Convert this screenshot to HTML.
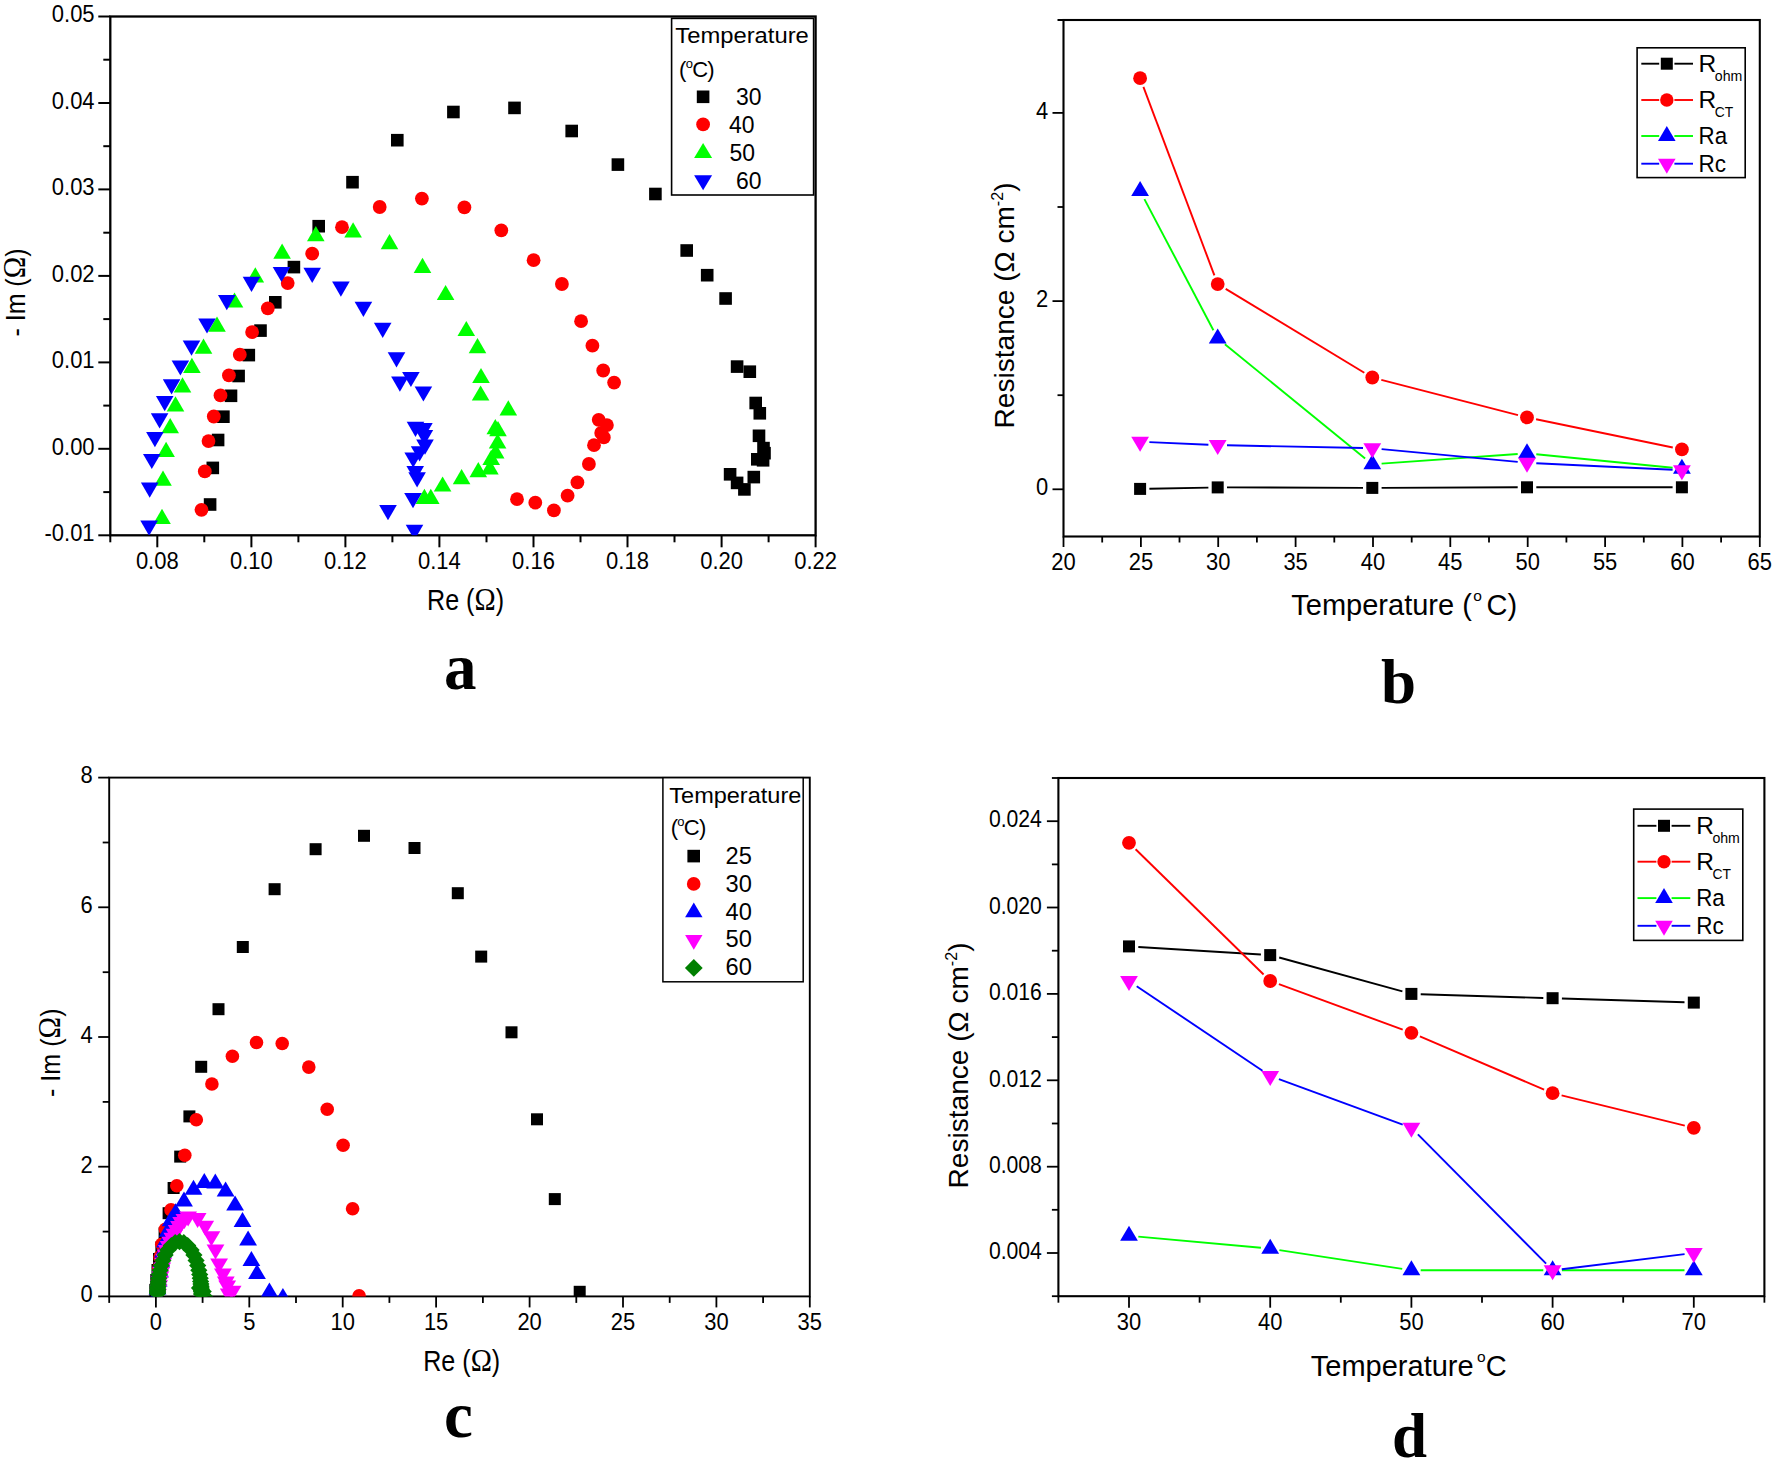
<!DOCTYPE html>
<html><head><meta charset="utf-8"><title>Impedance and resistance vs temperature</title>
<style>html,body{margin:0;padding:0;background:#fff}svg{display:block;font-family:"Liberation Sans",Arial,sans-serif;fill:#000}</style></head><body>
<svg width="1773" height="1466" viewBox="0 0 1773 1466">
<rect width="1773" height="1466" fill="#fff"/>
<g id="panel-a">
<clipPath id="ca"><rect x="110.3" y="16.5" width="705.3000000000001" height="518.8"/></clipPath>
<line x1="98.3" y1="16.5" x2="110.3" y2="16.5" stroke="#000" stroke-width="2"/>
<text x="94.6" y="22.4" font-size="23" text-anchor="end" textLength="42.8" lengthAdjust="spacingAndGlyphs">0.05</text>
<line x1="103.3" y1="59.7" x2="110.3" y2="59.7" stroke="#000" stroke-width="2"/>
<line x1="98.3" y1="103" x2="110.3" y2="103" stroke="#000" stroke-width="2"/>
<text x="94.6" y="108.9" font-size="23" text-anchor="end" textLength="42.8" lengthAdjust="spacingAndGlyphs">0.04</text>
<line x1="103.3" y1="146.2" x2="110.3" y2="146.2" stroke="#000" stroke-width="2"/>
<line x1="98.3" y1="189.4" x2="110.3" y2="189.4" stroke="#000" stroke-width="2"/>
<text x="94.6" y="195.3" font-size="23" text-anchor="end" textLength="42.8" lengthAdjust="spacingAndGlyphs">0.03</text>
<line x1="103.3" y1="232.7" x2="110.3" y2="232.7" stroke="#000" stroke-width="2"/>
<line x1="98.3" y1="275.9" x2="110.3" y2="275.9" stroke="#000" stroke-width="2"/>
<text x="94.6" y="281.8" font-size="23" text-anchor="end" textLength="42.8" lengthAdjust="spacingAndGlyphs">0.02</text>
<line x1="103.3" y1="319.1" x2="110.3" y2="319.1" stroke="#000" stroke-width="2"/>
<line x1="98.3" y1="362.4" x2="110.3" y2="362.4" stroke="#000" stroke-width="2"/>
<text x="94.6" y="368.3" font-size="23" text-anchor="end" textLength="42.8" lengthAdjust="spacingAndGlyphs">0.01</text>
<line x1="103.3" y1="405.6" x2="110.3" y2="405.6" stroke="#000" stroke-width="2"/>
<line x1="98.3" y1="448.8" x2="110.3" y2="448.8" stroke="#000" stroke-width="2"/>
<text x="94.6" y="454.7" font-size="23" text-anchor="end" textLength="42.8" lengthAdjust="spacingAndGlyphs">0.00</text>
<line x1="103.3" y1="492.1" x2="110.3" y2="492.1" stroke="#000" stroke-width="2"/>
<line x1="98.3" y1="535.3" x2="110.3" y2="535.3" stroke="#000" stroke-width="2"/>
<text x="94.6" y="541.2" font-size="23" text-anchor="end" textLength="50.1" lengthAdjust="spacingAndGlyphs">-0.01</text>
<line x1="110.3" y1="535.3" x2="110.3" y2="542.3" stroke="#000" stroke-width="2"/>
<line x1="157.3" y1="535.3" x2="157.3" y2="547.3" stroke="#000" stroke-width="2"/>
<text x="157.3" y="569.1" font-size="23" text-anchor="middle" textLength="42.8" lengthAdjust="spacingAndGlyphs">0.08</text>
<line x1="204.3" y1="535.3" x2="204.3" y2="542.3" stroke="#000" stroke-width="2"/>
<line x1="251.4" y1="535.3" x2="251.4" y2="547.3" stroke="#000" stroke-width="2"/>
<text x="251.4" y="569.1" font-size="23" text-anchor="middle" textLength="42.8" lengthAdjust="spacingAndGlyphs">0.10</text>
<line x1="298.4" y1="535.3" x2="298.4" y2="542.3" stroke="#000" stroke-width="2"/>
<line x1="345.4" y1="535.3" x2="345.4" y2="547.3" stroke="#000" stroke-width="2"/>
<text x="345.4" y="569.1" font-size="23" text-anchor="middle" textLength="42.8" lengthAdjust="spacingAndGlyphs">0.12</text>
<line x1="392.4" y1="535.3" x2="392.4" y2="542.3" stroke="#000" stroke-width="2"/>
<line x1="439.4" y1="535.3" x2="439.4" y2="547.3" stroke="#000" stroke-width="2"/>
<text x="439.4" y="569.1" font-size="23" text-anchor="middle" textLength="42.8" lengthAdjust="spacingAndGlyphs">0.14</text>
<line x1="486.5" y1="535.3" x2="486.5" y2="542.3" stroke="#000" stroke-width="2"/>
<line x1="533.5" y1="535.3" x2="533.5" y2="547.3" stroke="#000" stroke-width="2"/>
<text x="533.5" y="569.1" font-size="23" text-anchor="middle" textLength="42.8" lengthAdjust="spacingAndGlyphs">0.16</text>
<line x1="580.5" y1="535.3" x2="580.5" y2="542.3" stroke="#000" stroke-width="2"/>
<line x1="627.5" y1="535.3" x2="627.5" y2="547.3" stroke="#000" stroke-width="2"/>
<text x="627.5" y="569.1" font-size="23" text-anchor="middle" textLength="42.8" lengthAdjust="spacingAndGlyphs">0.18</text>
<line x1="674.5" y1="535.3" x2="674.5" y2="542.3" stroke="#000" stroke-width="2"/>
<line x1="721.6" y1="535.3" x2="721.6" y2="547.3" stroke="#000" stroke-width="2"/>
<text x="721.6" y="569.1" font-size="23" text-anchor="middle" textLength="42.8" lengthAdjust="spacingAndGlyphs">0.20</text>
<line x1="768.6" y1="535.3" x2="768.6" y2="542.3" stroke="#000" stroke-width="2"/>
<line x1="815.6" y1="535.3" x2="815.6" y2="547.3" stroke="#000" stroke-width="2"/>
<text x="815.6" y="569.1" font-size="23" text-anchor="middle" textLength="42.8" lengthAdjust="spacingAndGlyphs">0.22</text>
<rect x="110.3" y="16.5" width="705.3" height="518.8" fill="none" stroke="#000" stroke-width="2.3"/>
<g clip-path="url(#ca)">
<rect x="203.8" y="498.2" width="12.6" height="12.6" fill="#000"/>
<rect x="206.5" y="461.6" width="12.6" height="12.6" fill="#000"/>
<rect x="211.8" y="433.7" width="12.6" height="12.6" fill="#000"/>
<rect x="217.1" y="410.4" width="12.6" height="12.6" fill="#000"/>
<rect x="224.7" y="389.5" width="12.6" height="12.6" fill="#000"/>
<rect x="232.3" y="369.7" width="12.6" height="12.6" fill="#000"/>
<rect x="242.5" y="348.8" width="12.6" height="12.6" fill="#000"/>
<rect x="254.2" y="324.3" width="12.6" height="12.6" fill="#000"/>
<rect x="269" y="296" width="12.6" height="12.6" fill="#000"/>
<rect x="287.6" y="260.8" width="12.6" height="12.6" fill="#000"/>
<rect x="312.4" y="219.9" width="12.6" height="12.6" fill="#000"/>
<rect x="346.2" y="175.9" width="12.6" height="12.6" fill="#000"/>
<rect x="391" y="133.9" width="12.6" height="12.6" fill="#000"/>
<rect x="447.1" y="105.7" width="12.6" height="12.6" fill="#000"/>
<rect x="508.2" y="101.6" width="12.6" height="12.6" fill="#000"/>
<rect x="565.4" y="124.7" width="12.6" height="12.6" fill="#000"/>
<rect x="611.6" y="158.3" width="12.6" height="12.6" fill="#000"/>
<rect x="649.1" y="187.7" width="12.6" height="12.6" fill="#000"/>
<rect x="680.4" y="244.2" width="12.6" height="12.6" fill="#000"/>
<rect x="700.9" y="268.9" width="12.6" height="12.6" fill="#000"/>
<rect x="719.3" y="292.2" width="12.6" height="12.6" fill="#000"/>
<rect x="730.8" y="360.3" width="12.6" height="12.6" fill="#000"/>
<rect x="743.5" y="365.4" width="12.6" height="12.6" fill="#000"/>
<rect x="749.4" y="396.7" width="12.6" height="12.6" fill="#000"/>
<rect x="753.5" y="407" width="12.6" height="12.6" fill="#000"/>
<rect x="752.7" y="429.5" width="12.6" height="12.6" fill="#000"/>
<rect x="757.2" y="441.8" width="12.6" height="12.6" fill="#000"/>
<rect x="758.2" y="446.9" width="12.6" height="12.6" fill="#000"/>
<rect x="751" y="453" width="12.6" height="12.6" fill="#000"/>
<rect x="756.8" y="454" width="12.6" height="12.6" fill="#000"/>
<rect x="747.5" y="470.8" width="12.6" height="12.6" fill="#000"/>
<rect x="723.8" y="468" width="12.6" height="12.6" fill="#000"/>
<rect x="730.8" y="476.6" width="12.6" height="12.6" fill="#000"/>
<rect x="738.1" y="483.1" width="12.6" height="12.6" fill="#000"/>
<circle cx="201.5" cy="509.8" r="6.9" fill="#f00"/>
<circle cx="204.8" cy="471.4" r="6.9" fill="#f00"/>
<circle cx="208.5" cy="441.1" r="6.9" fill="#f00"/>
<circle cx="213.8" cy="416.5" r="6.9" fill="#f00"/>
<circle cx="220.5" cy="395.4" r="6.9" fill="#f00"/>
<circle cx="228.9" cy="375.4" r="6.9" fill="#f00"/>
<circle cx="239.8" cy="354.7" r="6.9" fill="#f00"/>
<circle cx="252.1" cy="332.1" r="6.9" fill="#f00"/>
<circle cx="267.8" cy="308.3" r="6.9" fill="#f00"/>
<circle cx="287.7" cy="283.1" r="6.9" fill="#f00"/>
<circle cx="312.2" cy="253.6" r="6.9" fill="#f00"/>
<circle cx="342" cy="227.2" r="6.9" fill="#f00"/>
<circle cx="379.7" cy="207" r="6.9" fill="#f00"/>
<circle cx="421.9" cy="198.6" r="6.9" fill="#f00"/>
<circle cx="464.4" cy="207.4" r="6.9" fill="#f00"/>
<circle cx="501.3" cy="230.3" r="6.9" fill="#f00"/>
<circle cx="533.6" cy="260.2" r="6.9" fill="#f00"/>
<circle cx="561.9" cy="284" r="6.9" fill="#f00"/>
<circle cx="581.1" cy="321.2" r="6.9" fill="#f00"/>
<circle cx="592.4" cy="345.7" r="6.9" fill="#f00"/>
<circle cx="603.2" cy="370.5" r="6.9" fill="#f00"/>
<circle cx="614.1" cy="382.6" r="6.9" fill="#f00"/>
<circle cx="598.7" cy="419.8" r="6.9" fill="#f00"/>
<circle cx="606.9" cy="425.1" r="6.9" fill="#f00"/>
<circle cx="601.2" cy="432.9" r="6.9" fill="#f00"/>
<circle cx="603.8" cy="437.4" r="6.9" fill="#f00"/>
<circle cx="594" cy="445.2" r="6.9" fill="#f00"/>
<circle cx="588.9" cy="464" r="6.9" fill="#f00"/>
<circle cx="577.4" cy="482.4" r="6.9" fill="#f00"/>
<circle cx="567.6" cy="495.7" r="6.9" fill="#f00"/>
<circle cx="553.9" cy="510.4" r="6.9" fill="#f00"/>
<circle cx="535.3" cy="502.7" r="6.9" fill="#f00"/>
<circle cx="517" cy="499.2" r="6.9" fill="#f00"/>
<path d="M162 508.8L170.8 524H153.2Z" fill="#0f0"/>
<path d="M163 470.5L171.8 485.7H154.2Z" fill="#0f0"/>
<path d="M166.1 441.7L174.9 456.9H157.3Z" fill="#0f0"/>
<path d="M170.2 418.1L179 433.3H161.4Z" fill="#0f0"/>
<path d="M175.5 396.2L184.3 411.4H166.7Z" fill="#0f0"/>
<path d="M182.5 377.2L191.3 392.4H173.7Z" fill="#0f0"/>
<path d="M191.9 357.7L200.7 372.9H183.1Z" fill="#0f0"/>
<path d="M203.5 338.6L212.3 353.8H194.7Z" fill="#0f0"/>
<path d="M217 316.5L225.8 331.7H208.2Z" fill="#0f0"/>
<path d="M234.5 292.4L243.3 307.6H225.7Z" fill="#0f0"/>
<path d="M255.3 267.3L264.1 282.5H246.5Z" fill="#0f0"/>
<path d="M282.1 243.6L290.9 258.8H273.3Z" fill="#0f0"/>
<path d="M315.8 226L324.6 241.2H307Z" fill="#0f0"/>
<path d="M353.1 222.3L361.9 237.5H344.3Z" fill="#0f0"/>
<path d="M389.5 234.1L398.3 249.3H380.7Z" fill="#0f0"/>
<path d="M422.5 257.7L431.3 272.9H413.7Z" fill="#0f0"/>
<path d="M445.6 284.9L454.4 300.1H436.8Z" fill="#0f0"/>
<path d="M466.3 320.9L475.1 336.1H457.5Z" fill="#0f0"/>
<path d="M477.5 338L486.3 353.2H468.7Z" fill="#0f0"/>
<path d="M481 367.9L489.8 383.1H472.2Z" fill="#0f0"/>
<path d="M480.6 385.4L489.4 400.6H471.8Z" fill="#0f0"/>
<path d="M508.3 400.2L517.1 415.4H499.5Z" fill="#0f0"/>
<path d="M495.3 419.1L504.1 434.3H486.5Z" fill="#0f0"/>
<path d="M498 421.1L506.8 436.3H489.2Z" fill="#0f0"/>
<path d="M497.6 433.4L506.4 448.6H488.8Z" fill="#0f0"/>
<path d="M495.7 443.2L504.5 458.4H486.9Z" fill="#0f0"/>
<path d="M491.2 449.8L500 465H482.4Z" fill="#0f0"/>
<path d="M489.9 459.3L498.7 474.5H481.1Z" fill="#0f0"/>
<path d="M478.3 462L487.1 477.2H469.5Z" fill="#0f0"/>
<path d="M461.6 469.1L470.4 484.3H452.8Z" fill="#0f0"/>
<path d="M442.6 476.4L451.4 491.6H433.8Z" fill="#0f0"/>
<path d="M430.8 488.7L439.6 503.9H422Z" fill="#0f0"/>
<path d="M424.4 488.7L433.2 503.9H415.6Z" fill="#0f0"/>
<path d="M140.3 520.5H157.9L149.1 535.7Z" fill="#00f"/>
<path d="M140.9 482.6H158.5L149.7 497.8Z" fill="#00f"/>
<path d="M143 453.9H160.6L151.8 469.1Z" fill="#00f"/>
<path d="M146.1 432H163.7L154.9 447.2Z" fill="#00f"/>
<path d="M150.8 413.2H168.4L159.6 428.4Z" fill="#00f"/>
<path d="M155.9 396H173.5L164.7 411.2Z" fill="#00f"/>
<path d="M162.8 379.2H180.4L171.6 394.4Z" fill="#00f"/>
<path d="M171.6 360.4H189.2L180.4 375.6Z" fill="#00f"/>
<path d="M182.7 340.6H200.3L191.5 355.8Z" fill="#00f"/>
<path d="M198.2 318.4H215.8L207 333.6Z" fill="#00f"/>
<path d="M218 295H235.6L226.8 310.2Z" fill="#00f"/>
<path d="M242.7 276.7H260.3L251.5 291.9Z" fill="#00f"/>
<path d="M272.7 266.9H290.3L281.5 282.1Z" fill="#00f"/>
<path d="M303.4 267.7H321L312.2 282.9Z" fill="#00f"/>
<path d="M332.1 281.6H349.7L340.9 296.8Z" fill="#00f"/>
<path d="M354.6 301.7H372.2L363.4 316.9Z" fill="#00f"/>
<path d="M373.9 322.8H391.5L382.7 338Z" fill="#00f"/>
<path d="M387.7 352.2H405.3L396.5 367.4Z" fill="#00f"/>
<path d="M402.1 371.9H419.7L410.9 387.1Z" fill="#00f"/>
<path d="M391.1 376.6H408.7L399.9 391.8Z" fill="#00f"/>
<path d="M414.6 386.4H432.2L423.4 401.6Z" fill="#00f"/>
<path d="M406.7 421.8H424.3L415.5 437Z" fill="#00f"/>
<path d="M415.1 423.1H432.7L423.9 438.3Z" fill="#00f"/>
<path d="M415.6 430H433.2L424.4 445.2Z" fill="#00f"/>
<path d="M416.2 439.5H433.8L425 454.7Z" fill="#00f"/>
<path d="M410.8 446.3H428.4L419.6 461.5Z" fill="#00f"/>
<path d="M404.4 452.5H422L413.2 467.7Z" fill="#00f"/>
<path d="M406.4 466.1H424L415.2 481.3Z" fill="#00f"/>
<path d="M408.3 472.3H425.9L417.1 487.5Z" fill="#00f"/>
<path d="M404.2 493H421.8L413 508.2Z" fill="#00f"/>
<path d="M379.2 505.1H396.8L388 520.3Z" fill="#00f"/>
<path d="M405.7 524.7H423.3L414.5 539.9Z" fill="#00f"/>
</g>
<rect x="671.6" y="18.4" width="142" height="176.6" fill="#fff" stroke="#000" stroke-width="1.6"/>
<text x="675.3" y="43" font-size="22" text-anchor="start" textLength="133.5" lengthAdjust="spacingAndGlyphs">Temperature</text>
<text x="679" y="76.6" font-size="22" letter-spacing="-0.7">(<tspan font-size="13" dy="-8.5">o</tspan><tspan dy="8.5">C)</tspan></text>
<rect x="696.8" y="90.5" width="12.6" height="12.6" fill="#000"/>
<text x="736" y="104.6" font-size="24" text-anchor="start" textLength="25.5" lengthAdjust="spacingAndGlyphs">30</text>
<circle cx="703.1" cy="124.4" r="6.9" fill="#f00"/>
<text x="729" y="132.7" font-size="24" text-anchor="start" textLength="25.5" lengthAdjust="spacingAndGlyphs">40</text>
<path d="M703.1 142.9L712.1 157.9H694.1Z" fill="#0f0"/>
<text x="729.5" y="160.8" font-size="24" text-anchor="start" textLength="25.5" lengthAdjust="spacingAndGlyphs">50</text>
<path d="M694.1 175.3H712.1L703.1 190.3Z" fill="#00f"/>
<text x="736" y="188.5" font-size="24" text-anchor="start" textLength="25.5" lengthAdjust="spacingAndGlyphs">60</text>
<text x="427" y="609.6" font-size="28.6" textLength="77" lengthAdjust="spacingAndGlyphs">Re (<tspan font-family='"Liberation Serif","Times New Roman",serif' font-size="32.5">Ω</tspan>)</text>
<text transform="translate(25.2,336.5) rotate(-90)" font-size="28" textLength="88" lengthAdjust="spacingAndGlyphs">- Im (<tspan font-family='"Liberation Serif","Times New Roman",serif' font-size="32.5">Ω</tspan>)</text>
<text x="460.2" y="689.3" font-size="65" text-anchor="middle" font-family='"Liberation Serif","Times New Roman",serif' font-weight="bold">a</text>
</g>
<g id="panel-b">
<line x1="1052.5" y1="489.3" x2="1063.5" y2="489.3" stroke="#000" stroke-width="1.8"/>
<text x="1048.2" y="495.3" font-size="23" text-anchor="end" textLength="12.2" lengthAdjust="spacingAndGlyphs">0</text>
<line x1="1052.5" y1="301.1" x2="1063.5" y2="301.1" stroke="#000" stroke-width="1.8"/>
<text x="1048.2" y="307.1" font-size="23" text-anchor="end" textLength="12.2" lengthAdjust="spacingAndGlyphs">2</text>
<line x1="1052.5" y1="112.9" x2="1063.5" y2="112.9" stroke="#000" stroke-width="1.8"/>
<text x="1048.2" y="118.9" font-size="23" text-anchor="end" textLength="12.2" lengthAdjust="spacingAndGlyphs">4</text>
<line x1="1057.5" y1="395.2" x2="1063.5" y2="395.2" stroke="#000" stroke-width="1.8"/>
<line x1="1057.5" y1="207" x2="1063.5" y2="207" stroke="#000" stroke-width="1.8"/>
<line x1="1057.5" y1="20" x2="1063.5" y2="20" stroke="#000" stroke-width="2"/>
<line x1="1063.5" y1="536.5" x2="1063.5" y2="547" stroke="#000" stroke-width="1.8"/>
<text x="1063.5" y="569.8" font-size="23" text-anchor="middle" textLength="24.4" lengthAdjust="spacingAndGlyphs">20</text>
<line x1="1102.2" y1="536.5" x2="1102.2" y2="542.5" stroke="#000" stroke-width="1.8"/>
<line x1="1140.9" y1="536.5" x2="1140.9" y2="547" stroke="#000" stroke-width="1.8"/>
<text x="1140.9" y="569.8" font-size="23" text-anchor="middle" textLength="24.4" lengthAdjust="spacingAndGlyphs">25</text>
<line x1="1179.5" y1="536.5" x2="1179.5" y2="542.5" stroke="#000" stroke-width="1.8"/>
<line x1="1218.2" y1="536.5" x2="1218.2" y2="547" stroke="#000" stroke-width="1.8"/>
<text x="1218.2" y="569.8" font-size="23" text-anchor="middle" textLength="24.4" lengthAdjust="spacingAndGlyphs">30</text>
<line x1="1256.9" y1="536.5" x2="1256.9" y2="542.5" stroke="#000" stroke-width="1.8"/>
<line x1="1295.6" y1="536.5" x2="1295.6" y2="547" stroke="#000" stroke-width="1.8"/>
<text x="1295.6" y="569.8" font-size="23" text-anchor="middle" textLength="24.4" lengthAdjust="spacingAndGlyphs">35</text>
<line x1="1334.3" y1="536.5" x2="1334.3" y2="542.5" stroke="#000" stroke-width="1.8"/>
<line x1="1373" y1="536.5" x2="1373" y2="547" stroke="#000" stroke-width="1.8"/>
<text x="1373" y="569.8" font-size="23" text-anchor="middle" textLength="24.4" lengthAdjust="spacingAndGlyphs">40</text>
<line x1="1411.7" y1="536.5" x2="1411.7" y2="542.5" stroke="#000" stroke-width="1.8"/>
<line x1="1450.3" y1="536.5" x2="1450.3" y2="547" stroke="#000" stroke-width="1.8"/>
<text x="1450.3" y="569.8" font-size="23" text-anchor="middle" textLength="24.4" lengthAdjust="spacingAndGlyphs">45</text>
<line x1="1489" y1="536.5" x2="1489" y2="542.5" stroke="#000" stroke-width="1.8"/>
<line x1="1527.7" y1="536.5" x2="1527.7" y2="547" stroke="#000" stroke-width="1.8"/>
<text x="1527.7" y="569.8" font-size="23" text-anchor="middle" textLength="24.4" lengthAdjust="spacingAndGlyphs">50</text>
<line x1="1566.4" y1="536.5" x2="1566.4" y2="542.5" stroke="#000" stroke-width="1.8"/>
<line x1="1605.1" y1="536.5" x2="1605.1" y2="547" stroke="#000" stroke-width="1.8"/>
<text x="1605.1" y="569.8" font-size="23" text-anchor="middle" textLength="24.4" lengthAdjust="spacingAndGlyphs">55</text>
<line x1="1643.8" y1="536.5" x2="1643.8" y2="542.5" stroke="#000" stroke-width="1.8"/>
<line x1="1682.4" y1="536.5" x2="1682.4" y2="547" stroke="#000" stroke-width="1.8"/>
<text x="1682.4" y="569.8" font-size="23" text-anchor="middle" textLength="24.4" lengthAdjust="spacingAndGlyphs">60</text>
<line x1="1721.1" y1="536.5" x2="1721.1" y2="542.5" stroke="#000" stroke-width="1.8"/>
<line x1="1759.8" y1="536.5" x2="1759.8" y2="547" stroke="#000" stroke-width="1.8"/>
<text x="1759.8" y="569.8" font-size="23" text-anchor="middle" textLength="24.4" lengthAdjust="spacingAndGlyphs">65</text>
<rect x="1063.5" y="20" width="696.3" height="516.5" fill="none" stroke="#000" stroke-width="2.1"/>
<line x1="1149.4" y1="488.7" x2="1208.4" y2="487.6" stroke="#000" stroke-width="1.9"/>
<line x1="1227" y1="487.4" x2="1363" y2="487.9" stroke="#000" stroke-width="1.9"/>
<line x1="1381.6" y1="487.9" x2="1517.7" y2="487.3" stroke="#000" stroke-width="1.9"/>
<line x1="1536.3" y1="487.3" x2="1672.6" y2="487.3" stroke="#000" stroke-width="1.9"/>
<rect x="1134.1" y="482.9" width="12" height="12" fill="#000"/>
<rect x="1211.7" y="481.4" width="12" height="12" fill="#000"/>
<rect x="1366.3" y="481.9" width="12" height="12" fill="#000"/>
<rect x="1521" y="481.3" width="12" height="12" fill="#000"/>
<rect x="1675.9" y="481.3" width="12" height="12" fill="#000"/>
<line x1="1143.4" y1="86.9" x2="1214.4" y2="275.4" stroke="#f00" stroke-width="1.9"/>
<line x1="1225.7" y1="288.9" x2="1364.3" y2="372.7" stroke="#f00" stroke-width="1.9"/>
<line x1="1381.3" y1="379.8" x2="1518" y2="415.1" stroke="#f00" stroke-width="1.9"/>
<line x1="1536.1" y1="419.3" x2="1672.8" y2="447.5" stroke="#f00" stroke-width="1.9"/>
<circle cx="1140.1" cy="78.2" r="6.9" fill="#f00"/>
<circle cx="1217.7" cy="284.1" r="6.9" fill="#f00"/>
<circle cx="1372.3" cy="377.5" r="6.9" fill="#f00"/>
<circle cx="1527" cy="417.4" r="6.9" fill="#f00"/>
<circle cx="1681.9" cy="449.4" r="6.9" fill="#f00"/>
<line x1="1144.4" y1="199.1" x2="1213.4" y2="330.2" stroke="#0f0" stroke-width="1.9"/>
<line x1="1224.9" y1="344.3" x2="1365.1" y2="458.4" stroke="#0f0" stroke-width="1.9"/>
<line x1="1381.6" y1="463.6" x2="1517.7" y2="454" stroke="#0f0" stroke-width="1.9"/>
<line x1="1536.3" y1="454.2" x2="1672.6" y2="467.8" stroke="#0f0" stroke-width="1.9"/>
<path d="M1140.1 180.9L1149 195.9H1131.2Z" fill="#00f"/>
<path d="M1217.7 328.4L1226.6 343.4H1208.8Z" fill="#00f"/>
<path d="M1372.3 454.3L1381.2 469.3H1363.4Z" fill="#00f"/>
<path d="M1527 443.3L1535.9 458.3H1518.1Z" fill="#00f"/>
<path d="M1681.9 458.7L1690.8 473.7H1673Z" fill="#00f"/>
<line x1="1149.4" y1="442.1" x2="1208.4" y2="444.7" stroke="#00f" stroke-width="1.9"/>
<line x1="1227" y1="445.3" x2="1363" y2="448" stroke="#00f" stroke-width="1.9"/>
<line x1="1381.6" y1="449.1" x2="1517.7" y2="461.9" stroke="#00f" stroke-width="1.9"/>
<line x1="1536.3" y1="463.2" x2="1672.6" y2="469.8" stroke="#00f" stroke-width="1.9"/>
<path d="M1131.2 436.7H1149L1140.1 451.7Z" fill="#f0f"/>
<path d="M1208.8 440.1H1226.6L1217.7 455.1Z" fill="#f0f"/>
<path d="M1363.4 443.2H1381.2L1372.3 458.2Z" fill="#f0f"/>
<path d="M1518.1 457.8H1535.9L1527 472.8Z" fill="#f0f"/>
<path d="M1673 465.2H1690.8L1681.9 480.2Z" fill="#f0f"/>
<rect x="1637.1" y="47.8" width="108.1" height="129.8" fill="#fff" stroke="#000" stroke-width="1.6"/>
<line x1="1641.3" y1="63.7" x2="1659.2" y2="63.7" stroke="#000" stroke-width="1.9"/>
<line x1="1674.4" y1="63.7" x2="1693" y2="63.7" stroke="#000" stroke-width="1.9"/>
<rect x="1660.8" y="57.7" width="12" height="12" fill="#000"/>
<line x1="1641.3" y1="100" x2="1659.2" y2="100" stroke="#f00" stroke-width="1.9"/>
<line x1="1674.4" y1="100" x2="1693" y2="100" stroke="#f00" stroke-width="1.9"/>
<circle cx="1666.8" cy="100" r="6.7" fill="#f00"/>
<line x1="1641.3" y1="136" x2="1659.2" y2="136" stroke="#0f0" stroke-width="1.9"/>
<line x1="1674.4" y1="136" x2="1693" y2="136" stroke="#0f0" stroke-width="1.9"/>
<path d="M1666.8 126L1675.6 141H1658Z" fill="#00f"/>
<line x1="1641.3" y1="163.7" x2="1659.2" y2="163.7" stroke="#00f" stroke-width="1.9"/>
<line x1="1674.4" y1="163.7" x2="1693" y2="163.7" stroke="#00f" stroke-width="1.9"/>
<path d="M1658 158.7H1675.6L1666.8 173.7Z" fill="#f0f"/>
<text x="1698.6" y="71.6" font-size="24.5">R<tspan font-size="14.5" dy="8.9" dx="-1.5" textLength="27.5" lengthAdjust="spacingAndGlyphs">ohm</tspan></text>
<text x="1698.6" y="107.8" font-size="24.5">R<tspan font-size="15" dy="8.9" dx="-1.5" textLength="18.5" lengthAdjust="spacingAndGlyphs">CT</tspan></text>
<text x="1698.6" y="143.5" font-size="24.5" textLength="28.5" lengthAdjust="spacingAndGlyphs">Ra</text>
<text x="1698.6" y="171.6" font-size="24.5" textLength="27.5" lengthAdjust="spacingAndGlyphs">Rc</text>
<text x="1291.3" y="614.6" font-size="29">Temperature (<tspan font-size="15.5" dy="-13.8" dx="1.5">o</tspan><tspan dy="13.8" dx="4.5">C)</tspan></text>
<text transform="translate(1013.9,428.5) rotate(-90)" font-size="28" textLength="246" lengthAdjust="spacingAndGlyphs">Resistance (Ω cm<tspan font-size="16" dy="-11">-2</tspan><tspan dy="11">)</tspan></text>
<text x="1398.4" y="702.5" font-size="63" text-anchor="middle" font-family='"Liberation Serif","Times New Roman",serif' font-weight="bold">b</text>
</g>
<g id="panel-c">
<clipPath id="cc"><rect x="109.2" y="777.6" width="700.5999999999999" height="518.8000000000001"/></clipPath>
<line x1="98.2" y1="1296.4" x2="109.2" y2="1296.4" stroke="#000" stroke-width="1.8"/>
<text x="92.8" y="1302.2" font-size="23" text-anchor="end" textLength="12.2" lengthAdjust="spacingAndGlyphs">0</text>
<line x1="102.7" y1="1231.6" x2="109.2" y2="1231.6" stroke="#000" stroke-width="1.8"/>
<line x1="98.2" y1="1166.7" x2="109.2" y2="1166.7" stroke="#000" stroke-width="1.8"/>
<text x="92.8" y="1172.5" font-size="23" text-anchor="end" textLength="12.2" lengthAdjust="spacingAndGlyphs">2</text>
<line x1="102.7" y1="1101.9" x2="109.2" y2="1101.9" stroke="#000" stroke-width="1.8"/>
<line x1="98.2" y1="1037" x2="109.2" y2="1037" stroke="#000" stroke-width="1.8"/>
<text x="92.8" y="1042.8" font-size="23" text-anchor="end" textLength="12.2" lengthAdjust="spacingAndGlyphs">4</text>
<line x1="102.7" y1="972.2" x2="109.2" y2="972.2" stroke="#000" stroke-width="1.8"/>
<line x1="98.2" y1="907.3" x2="109.2" y2="907.3" stroke="#000" stroke-width="1.8"/>
<text x="92.8" y="913.1" font-size="23" text-anchor="end" textLength="12.2" lengthAdjust="spacingAndGlyphs">6</text>
<line x1="102.7" y1="842.5" x2="109.2" y2="842.5" stroke="#000" stroke-width="1.8"/>
<line x1="98.2" y1="777.6" x2="109.2" y2="777.6" stroke="#000" stroke-width="1.8"/>
<text x="92.8" y="783.4" font-size="23" text-anchor="end" textLength="12.2" lengthAdjust="spacingAndGlyphs">8</text>
<line x1="109.2" y1="1296.4" x2="109.2" y2="1302.9" stroke="#000" stroke-width="1.8"/>
<line x1="155.9" y1="1296.4" x2="155.9" y2="1307.4" stroke="#000" stroke-width="1.8"/>
<text x="155.9" y="1329.8" font-size="23" text-anchor="middle" textLength="12.2" lengthAdjust="spacingAndGlyphs">0</text>
<line x1="202.6" y1="1296.4" x2="202.6" y2="1302.9" stroke="#000" stroke-width="1.8"/>
<line x1="249.3" y1="1296.4" x2="249.3" y2="1307.4" stroke="#000" stroke-width="1.8"/>
<text x="249.3" y="1329.8" font-size="23" text-anchor="middle" textLength="12.2" lengthAdjust="spacingAndGlyphs">5</text>
<line x1="296" y1="1296.4" x2="296" y2="1302.9" stroke="#000" stroke-width="1.8"/>
<line x1="342.7" y1="1296.4" x2="342.7" y2="1307.4" stroke="#000" stroke-width="1.8"/>
<text x="342.7" y="1329.8" font-size="23" text-anchor="middle" textLength="24.4" lengthAdjust="spacingAndGlyphs">10</text>
<line x1="389.4" y1="1296.4" x2="389.4" y2="1302.9" stroke="#000" stroke-width="1.8"/>
<line x1="436.1" y1="1296.4" x2="436.1" y2="1307.4" stroke="#000" stroke-width="1.8"/>
<text x="436.1" y="1329.8" font-size="23" text-anchor="middle" textLength="24.4" lengthAdjust="spacingAndGlyphs">15</text>
<line x1="482.9" y1="1296.4" x2="482.9" y2="1302.9" stroke="#000" stroke-width="1.8"/>
<line x1="529.6" y1="1296.4" x2="529.6" y2="1307.4" stroke="#000" stroke-width="1.8"/>
<text x="529.6" y="1329.8" font-size="23" text-anchor="middle" textLength="24.4" lengthAdjust="spacingAndGlyphs">20</text>
<line x1="576.3" y1="1296.4" x2="576.3" y2="1302.9" stroke="#000" stroke-width="1.8"/>
<line x1="623" y1="1296.4" x2="623" y2="1307.4" stroke="#000" stroke-width="1.8"/>
<text x="623" y="1329.8" font-size="23" text-anchor="middle" textLength="24.4" lengthAdjust="spacingAndGlyphs">25</text>
<line x1="669.7" y1="1296.4" x2="669.7" y2="1302.9" stroke="#000" stroke-width="1.8"/>
<line x1="716.4" y1="1296.4" x2="716.4" y2="1307.4" stroke="#000" stroke-width="1.8"/>
<text x="716.4" y="1329.8" font-size="23" text-anchor="middle" textLength="24.4" lengthAdjust="spacingAndGlyphs">30</text>
<line x1="763.1" y1="1296.4" x2="763.1" y2="1302.9" stroke="#000" stroke-width="1.8"/>
<line x1="809.8" y1="1296.4" x2="809.8" y2="1307.4" stroke="#000" stroke-width="1.8"/>
<text x="809.8" y="1329.8" font-size="23" text-anchor="middle" textLength="24.4" lengthAdjust="spacingAndGlyphs">35</text>
<rect x="109.2" y="777.6" width="700.6" height="518.8" fill="none" stroke="#000" stroke-width="1.9"/>
<g clip-path="url(#cc)">
<rect x="149.3" y="1284" width="12" height="12" fill="#000"/>
<rect x="150.3" y="1274" width="12" height="12" fill="#000"/>
<rect x="151.5" y="1264" width="12" height="12" fill="#000"/>
<rect x="153" y="1253" width="12" height="12" fill="#000"/>
<rect x="155.4" y="1241.5" width="12" height="12" fill="#000"/>
<rect x="158.6" y="1227.4" width="12" height="12" fill="#000"/>
<rect x="162.6" y="1207.2" width="12" height="12" fill="#000"/>
<rect x="167.6" y="1182" width="12" height="12" fill="#000"/>
<rect x="174.2" y="1150.6" width="12" height="12" fill="#000"/>
<rect x="183.4" y="1110.4" width="12" height="12" fill="#000"/>
<rect x="195.2" y="1060.8" width="12" height="12" fill="#000"/>
<rect x="212.5" y="1003.2" width="12" height="12" fill="#000"/>
<rect x="236.8" y="941" width="12" height="12" fill="#000"/>
<rect x="268.6" y="883.2" width="12" height="12" fill="#000"/>
<rect x="309.6" y="843.2" width="12" height="12" fill="#000"/>
<rect x="358" y="829.8" width="12" height="12" fill="#000"/>
<rect x="408.5" y="842" width="12" height="12" fill="#000"/>
<rect x="451.8" y="887.2" width="12" height="12" fill="#000"/>
<rect x="475.2" y="950.6" width="12" height="12" fill="#000"/>
<rect x="505.5" y="1026.3" width="12" height="12" fill="#000"/>
<rect x="531" y="1113.3" width="12" height="12" fill="#000"/>
<rect x="548.8" y="1193.1" width="12" height="12" fill="#000"/>
<rect x="573.7" y="1285.8" width="12" height="12" fill="#000"/>
<circle cx="157.5" cy="1290" r="6.8" fill="#f00"/>
<circle cx="158" cy="1280" r="6.8" fill="#f00"/>
<circle cx="158.8" cy="1268" r="6.8" fill="#f00"/>
<circle cx="160" cy="1257" r="6.8" fill="#f00"/>
<circle cx="161.8" cy="1244.3" r="6.8" fill="#f00"/>
<circle cx="165.4" cy="1229.3" r="6.8" fill="#f00"/>
<circle cx="171" cy="1209.9" r="6.8" fill="#f00"/>
<circle cx="176.8" cy="1185.7" r="6.8" fill="#f00"/>
<circle cx="184.8" cy="1155.2" r="6.8" fill="#f00"/>
<circle cx="196.3" cy="1119.7" r="6.8" fill="#f00"/>
<circle cx="211.9" cy="1084" r="6.8" fill="#f00"/>
<circle cx="232.4" cy="1056.3" r="6.8" fill="#f00"/>
<circle cx="256.5" cy="1042.5" r="6.8" fill="#f00"/>
<circle cx="282.2" cy="1043.5" r="6.8" fill="#f00"/>
<circle cx="308.8" cy="1067.1" r="6.8" fill="#f00"/>
<circle cx="327.2" cy="1109.2" r="6.8" fill="#f00"/>
<circle cx="343.1" cy="1145.3" r="6.8" fill="#f00"/>
<circle cx="352.6" cy="1208.8" r="6.8" fill="#f00"/>
<circle cx="359.1" cy="1295.7" r="6.8" fill="#f00"/>
<path d="M156.5 1286.5L165.4 1301.5H147.6Z" fill="#00f"/>
<path d="M157.5 1279.5L166.4 1294.5H148.6Z" fill="#00f"/>
<path d="M158.7 1271.5L167.6 1286.5H149.8Z" fill="#00f"/>
<path d="M160 1262.5L168.9 1277.5H151.1Z" fill="#00f"/>
<path d="M161.3 1252.5L170.2 1267.5H152.4Z" fill="#00f"/>
<path d="M163 1242.5L171.9 1257.5H154.1Z" fill="#00f"/>
<path d="M165 1232.5L173.9 1247.5H156.1Z" fill="#00f"/>
<path d="M167.7 1221.7L176.6 1236.7H158.8Z" fill="#00f"/>
<path d="M170.6 1211.2L179.5 1226.2H161.7Z" fill="#00f"/>
<path d="M175.6 1203.3L184.5 1218.3H166.7Z" fill="#00f"/>
<path d="M184 1191.4L192.9 1206.4H175.1Z" fill="#00f"/>
<path d="M193.5 1179.7L202.4 1194.7H184.6Z" fill="#00f"/>
<path d="M204.3 1173L213.2 1188H195.4Z" fill="#00f"/>
<path d="M215.3 1173.4L224.2 1188.4H206.4Z" fill="#00f"/>
<path d="M225.6 1181.5L234.5 1196.5H216.7Z" fill="#00f"/>
<path d="M235.1 1195.5L244 1210.5H226.2Z" fill="#00f"/>
<path d="M242.5 1212.1L251.4 1227.1H233.6Z" fill="#00f"/>
<path d="M248.1 1230.5L257 1245.5H239.2Z" fill="#00f"/>
<path d="M251.4 1251.1L260.3 1266.1H242.5Z" fill="#00f"/>
<path d="M257 1264L265.9 1279H248.1Z" fill="#00f"/>
<path d="M269.4 1282.5L278.3 1297.5H260.5Z" fill="#00f"/>
<path d="M282.9 1287.9L291.8 1302.9H274Z" fill="#00f"/>
<path d="M149 1289.1H166.8L157.9 1304.1Z" fill="#f0f"/>
<path d="M149.7 1284.6H167.5L158.6 1299.6Z" fill="#f0f"/>
<path d="M150.3 1280.2H168.1L159.2 1295.2Z" fill="#f0f"/>
<path d="M151 1275.7H168.8L159.9 1290.7Z" fill="#f0f"/>
<path d="M151.6 1271.3H169.4L160.5 1286.3Z" fill="#f0f"/>
<path d="M152.4 1266.9H170.2L161.3 1281.9Z" fill="#f0f"/>
<path d="M153.3 1262.5H171.1L162.2 1277.5Z" fill="#f0f"/>
<path d="M154.2 1258H172L163.1 1273Z" fill="#f0f"/>
<path d="M155.3 1253.7H173.1L164.2 1268.7Z" fill="#f0f"/>
<path d="M156.6 1249.4H174.4L165.5 1264.4Z" fill="#f0f"/>
<path d="M158 1245.1H175.8L166.9 1260.1Z" fill="#f0f"/>
<path d="M159.7 1240.9H177.5L168.6 1255.9Z" fill="#f0f"/>
<path d="M161.4 1236.8H179.2L170.3 1251.8Z" fill="#f0f"/>
<path d="M163.4 1232.7H181.2L172.3 1247.7Z" fill="#f0f"/>
<path d="M165.6 1228.8H183.4L174.5 1243.8Z" fill="#f0f"/>
<path d="M167.8 1224.9H185.6L176.7 1239.9Z" fill="#f0f"/>
<path d="M170.1 1221H187.9L179 1236Z" fill="#f0f"/>
<path d="M172.3 1217.1H190.1L181.2 1232.1Z" fill="#f0f"/>
<path d="M175.5 1214.1H193.3L184.4 1229.1Z" fill="#f0f"/>
<path d="M179.2 1211.6H197L188.1 1226.6Z" fill="#f0f"/>
<path d="M188.7 1213.1H206.5L197.6 1228.1Z" fill="#f0f"/>
<path d="M196.3 1220.8H214.1L205.2 1235.8Z" fill="#f0f"/>
<path d="M202.5 1231.3H220.3L211.4 1246.3Z" fill="#f0f"/>
<path d="M206.6 1244.6H224.4L215.5 1259.6Z" fill="#f0f"/>
<path d="M210.2 1258.5H228L219.1 1273.5Z" fill="#f0f"/>
<path d="M214 1268.5H231.8L222.9 1283.5Z" fill="#f0f"/>
<path d="M216.9 1276.6H234.7L225.8 1291.6Z" fill="#f0f"/>
<path d="M218.3 1280.5H236.1L227.2 1295.5Z" fill="#f0f"/>
<path d="M223.7 1285.7H241.5L232.6 1300.7Z" fill="#f0f"/>
<path d="M219.9 1288.6H237.7L228.8 1303.6Z" fill="#f0f"/>
<path d="M157.5 1284.8L166.1 1293.4L157.5 1302L148.9 1293.4Z" fill="#007f00"/>
<path d="M157.6 1284.1L166.2 1292.7L157.6 1301.3L149 1292.7Z" fill="#007f00"/>
<path d="M157.6 1283.2L166.2 1291.8L157.6 1300.4L149 1291.8Z" fill="#007f00"/>
<path d="M157.6 1282.2L166.2 1290.8L157.6 1299.4L149 1290.8Z" fill="#007f00"/>
<path d="M157.7 1280.9L166.3 1289.5L157.7 1298.1L149.1 1289.5Z" fill="#007f00"/>
<path d="M157.8 1279.4L166.4 1288L157.8 1296.6L149.2 1288Z" fill="#007f00"/>
<path d="M157.9 1277.6L166.5 1286.2L157.9 1294.8L149.3 1286.2Z" fill="#007f00"/>
<path d="M158.1 1275.4L166.7 1284L158.1 1292.6L149.5 1284Z" fill="#007f00"/>
<path d="M158.4 1272.8L167 1281.4L158.4 1290L149.8 1281.4Z" fill="#007f00"/>
<path d="M158.8 1269.6L167.4 1278.2L158.8 1286.8L150.2 1278.2Z" fill="#007f00"/>
<path d="M159.3 1266L167.9 1274.6L159.3 1283.2L150.7 1274.6Z" fill="#007f00"/>
<path d="M160.2 1261.7L168.8 1270.3L160.2 1278.9L151.6 1270.3Z" fill="#007f00"/>
<path d="M161.3 1257L169.9 1265.6L161.3 1274.2L152.7 1265.6Z" fill="#007f00"/>
<path d="M162.9 1251.8L171.5 1260.4L162.9 1269L154.3 1260.4Z" fill="#007f00"/>
<path d="M165.1 1246.4L173.7 1255L165.1 1263.6L156.5 1255Z" fill="#007f00"/>
<path d="M167.9 1241.3L176.5 1249.9L167.9 1258.5L159.3 1249.9Z" fill="#007f00"/>
<path d="M171.3 1237L179.9 1245.6L171.3 1254.2L162.7 1245.6Z" fill="#007f00"/>
<path d="M175.2 1234L183.8 1242.6L175.2 1251.2L166.6 1242.6Z" fill="#007f00"/>
<path d="M179.5 1233L188.1 1241.6L179.5 1250.2L170.9 1241.6Z" fill="#007f00"/>
<path d="M183.8 1234L192.4 1242.6L183.8 1251.2L175.2 1242.6Z" fill="#007f00"/>
<path d="M187.7 1237L196.3 1245.6L187.7 1254.2L179.1 1245.6Z" fill="#007f00"/>
<path d="M191.1 1241.3L199.7 1249.9L191.1 1258.5L182.5 1249.9Z" fill="#007f00"/>
<path d="M193.9 1246.4L202.5 1255L193.9 1263.6L185.3 1255Z" fill="#007f00"/>
<path d="M196.1 1251.8L204.7 1260.4L196.1 1269L187.5 1260.4Z" fill="#007f00"/>
<path d="M197.7 1257L206.3 1265.6L197.7 1274.2L189.1 1265.6Z" fill="#007f00"/>
<path d="M198.8 1261.7L207.4 1270.3L198.8 1278.9L190.2 1270.3Z" fill="#007f00"/>
<path d="M199.7 1266L208.3 1274.6L199.7 1283.2L191.1 1274.6Z" fill="#007f00"/>
<path d="M200.2 1269.6L208.8 1278.2L200.2 1286.8L191.6 1278.2Z" fill="#007f00"/>
<path d="M200.6 1272.8L209.2 1281.4L200.6 1290L192 1281.4Z" fill="#007f00"/>
<path d="M200.9 1275.4L209.5 1284L200.9 1292.6L192.3 1284Z" fill="#007f00"/>
<path d="M201.1 1277.6L209.7 1286.2L201.1 1294.8L192.5 1286.2Z" fill="#007f00"/>
<path d="M201.2 1279.4L209.8 1288L201.2 1296.6L192.6 1288Z" fill="#007f00"/>
<path d="M201.3 1280.9L209.9 1289.5L201.3 1298.1L192.7 1289.5Z" fill="#007f00"/>
<path d="M201.4 1282.2L210 1290.8L201.4 1299.4L192.8 1290.8Z" fill="#007f00"/>
<path d="M201.4 1283.2L210 1291.8L201.4 1300.4L192.8 1291.8Z" fill="#007f00"/>
<path d="M199.5 1279.4L208.1 1288L199.5 1296.6L190.9 1288Z" fill="#007f00"/>
<path d="M203.2 1282.9L211.8 1291.5L203.2 1300.1L194.6 1291.5Z" fill="#007f00"/>
<path d="M204.6 1287.9L213.2 1296.5L204.6 1305.1L196 1296.5Z" fill="#007f00"/>
<path d="M201.5 1285.4L210.1 1294L201.5 1302.6L192.9 1294Z" fill="#007f00"/>
</g>
<rect x="662.9" y="777.7" width="140.3" height="204.1" fill="#fff" stroke="#000" stroke-width="1.5"/>
<text x="669.3" y="802.9" font-size="21.5" text-anchor="start" textLength="132" lengthAdjust="spacingAndGlyphs">Temperature</text>
<text x="670.7" y="834.6" font-size="22" letter-spacing="-0.7">(<tspan font-size="13" dy="-8.5">o</tspan><tspan dy="8.5">C)</tspan></text>
<rect x="687.4" y="849.8" width="12.6" height="12.6" fill="#000"/>
<circle cx="693.7" cy="883.9" r="6.8" fill="#f00"/>
<path d="M693.8 902.4L702.5 917.2H685.1Z" fill="#00f"/>
<path d="M685.1 934.9H702.5L693.8 949.7Z" fill="#f0f"/>
<path d="M693.8 959L702.7 967.9L693.8 976.8L684.9 967.9Z" fill="#007f00"/>
<text x="725.6" y="864" font-size="24.5" text-anchor="start" textLength="26.3" lengthAdjust="spacingAndGlyphs">25</text>
<text x="725.6" y="891.5" font-size="24.5" text-anchor="start" textLength="26.3" lengthAdjust="spacingAndGlyphs">30</text>
<text x="725.6" y="919.6" font-size="24.5" text-anchor="start" textLength="26.3" lengthAdjust="spacingAndGlyphs">40</text>
<text x="725.6" y="947.4" font-size="24.5" text-anchor="start" textLength="26.3" lengthAdjust="spacingAndGlyphs">50</text>
<text x="725.6" y="975.2" font-size="24.5" text-anchor="start" textLength="26.3" lengthAdjust="spacingAndGlyphs">60</text>
<text x="423.2" y="1370.6" font-size="28.6" textLength="77" lengthAdjust="spacingAndGlyphs">Re (<tspan font-family='"Liberation Serif","Times New Roman",serif' font-size="32.5">Ω</tspan>)</text>
<text transform="translate(59.9,1097) rotate(-90)" font-size="28" textLength="88.5" lengthAdjust="spacingAndGlyphs">- Im (<tspan font-family='"Liberation Serif","Times New Roman",serif' font-size="32.5">Ω</tspan>)</text>
<text x="458.5" y="1437.2" font-size="65" text-anchor="middle" font-family='"Liberation Serif","Times New Roman",serif' font-weight="bold">c</text>
</g>
<g id="panel-d">
<line x1="1051.9" y1="1296.2" x2="1058.4" y2="1296.2" stroke="#000" stroke-width="1.8"/>
<line x1="1046.9" y1="1253" x2="1058.4" y2="1253" stroke="#000" stroke-width="1.8"/>
<text x="1041.9" y="1259.2" font-size="23" text-anchor="end" textLength="53" lengthAdjust="spacingAndGlyphs">0.004</text>
<line x1="1051.9" y1="1209.8" x2="1058.4" y2="1209.8" stroke="#000" stroke-width="1.8"/>
<line x1="1046.9" y1="1166.7" x2="1058.4" y2="1166.7" stroke="#000" stroke-width="1.8"/>
<text x="1041.9" y="1172.9" font-size="23" text-anchor="end" textLength="53" lengthAdjust="spacingAndGlyphs">0.008</text>
<line x1="1051.9" y1="1123.5" x2="1058.4" y2="1123.5" stroke="#000" stroke-width="1.8"/>
<line x1="1046.9" y1="1080.3" x2="1058.4" y2="1080.3" stroke="#000" stroke-width="1.8"/>
<text x="1041.9" y="1086.5" font-size="23" text-anchor="end" textLength="53" lengthAdjust="spacingAndGlyphs">0.012</text>
<line x1="1051.9" y1="1037.1" x2="1058.4" y2="1037.1" stroke="#000" stroke-width="1.8"/>
<line x1="1046.9" y1="993.9" x2="1058.4" y2="993.9" stroke="#000" stroke-width="1.8"/>
<text x="1041.9" y="1000.1" font-size="23" text-anchor="end" textLength="53" lengthAdjust="spacingAndGlyphs">0.016</text>
<line x1="1051.9" y1="950.7" x2="1058.4" y2="950.7" stroke="#000" stroke-width="1.8"/>
<line x1="1046.9" y1="907.5" x2="1058.4" y2="907.5" stroke="#000" stroke-width="1.8"/>
<text x="1041.9" y="913.8" font-size="23" text-anchor="end" textLength="53" lengthAdjust="spacingAndGlyphs">0.020</text>
<line x1="1051.9" y1="864.4" x2="1058.4" y2="864.4" stroke="#000" stroke-width="1.8"/>
<line x1="1046.9" y1="821.2" x2="1058.4" y2="821.2" stroke="#000" stroke-width="1.8"/>
<text x="1041.9" y="827.4" font-size="23" text-anchor="end" textLength="53" lengthAdjust="spacingAndGlyphs">0.024</text>
<line x1="1051.9" y1="778" x2="1058.4" y2="778" stroke="#000" stroke-width="1.8"/>
<line x1="1058.4" y1="1296.2" x2="1058.4" y2="1302.7" stroke="#000" stroke-width="1.8"/>
<line x1="1129" y1="1296.2" x2="1129" y2="1307.7" stroke="#000" stroke-width="1.8"/>
<text x="1129" y="1330.3" font-size="23" text-anchor="middle" textLength="24.4" lengthAdjust="spacingAndGlyphs">30</text>
<line x1="1199.6" y1="1296.2" x2="1199.6" y2="1302.7" stroke="#000" stroke-width="1.8"/>
<line x1="1270.2" y1="1296.2" x2="1270.2" y2="1307.7" stroke="#000" stroke-width="1.8"/>
<text x="1270.2" y="1330.3" font-size="23" text-anchor="middle" textLength="24.4" lengthAdjust="spacingAndGlyphs">40</text>
<line x1="1340.8" y1="1296.2" x2="1340.8" y2="1302.7" stroke="#000" stroke-width="1.8"/>
<line x1="1411.4" y1="1296.2" x2="1411.4" y2="1307.7" stroke="#000" stroke-width="1.8"/>
<text x="1411.4" y="1330.3" font-size="23" text-anchor="middle" textLength="24.4" lengthAdjust="spacingAndGlyphs">50</text>
<line x1="1482" y1="1296.2" x2="1482" y2="1302.7" stroke="#000" stroke-width="1.8"/>
<line x1="1552.6" y1="1296.2" x2="1552.6" y2="1307.7" stroke="#000" stroke-width="1.8"/>
<text x="1552.6" y="1330.3" font-size="23" text-anchor="middle" textLength="24.4" lengthAdjust="spacingAndGlyphs">60</text>
<line x1="1623.2" y1="1296.2" x2="1623.2" y2="1302.7" stroke="#000" stroke-width="1.8"/>
<line x1="1693.8" y1="1296.2" x2="1693.8" y2="1307.7" stroke="#000" stroke-width="1.8"/>
<text x="1693.8" y="1330.3" font-size="23" text-anchor="middle" textLength="24.4" lengthAdjust="spacingAndGlyphs">70</text>
<line x1="1764.4" y1="1296.2" x2="1764.4" y2="1302.7" stroke="#000" stroke-width="1.8"/>
<rect x="1058.4" y="778" width="706" height="518.2" fill="none" stroke="#000" stroke-width="2.1"/>
<line x1="1138.3" y1="947" x2="1260.9" y2="954.5" stroke="#000" stroke-width="1.9"/>
<line x1="1279.2" y1="957.5" x2="1402.4" y2="991.4" stroke="#000" stroke-width="1.9"/>
<line x1="1420.7" y1="994.2" x2="1543.3" y2="998" stroke="#000" stroke-width="1.9"/>
<line x1="1561.9" y1="998.5" x2="1684.5" y2="1002.3" stroke="#000" stroke-width="1.9"/>
<rect x="1123" y="940.4" width="12" height="12" fill="#000"/>
<rect x="1264.2" y="949.1" width="12" height="12" fill="#000"/>
<rect x="1405.4" y="987.9" width="12" height="12" fill="#000"/>
<rect x="1546.6" y="992.2" width="12" height="12" fill="#000"/>
<rect x="1687.8" y="996.6" width="12" height="12" fill="#000"/>
<line x1="1135.6" y1="849.3" x2="1263.6" y2="974.5" stroke="#f00" stroke-width="1.9"/>
<line x1="1278.9" y1="984.2" x2="1402.7" y2="1029.6" stroke="#f00" stroke-width="1.9"/>
<line x1="1419.9" y1="1036.4" x2="1544.1" y2="1089.6" stroke="#f00" stroke-width="1.9"/>
<line x1="1561.6" y1="1095.4" x2="1684.8" y2="1125.6" stroke="#f00" stroke-width="1.9"/>
<circle cx="1129" cy="842.8" r="6.9" fill="#f00"/>
<circle cx="1270.2" cy="981" r="6.9" fill="#f00"/>
<circle cx="1411.4" cy="1032.8" r="6.9" fill="#f00"/>
<circle cx="1552.6" cy="1093.2" r="6.9" fill="#f00"/>
<circle cx="1693.8" cy="1127.8" r="6.9" fill="#f00"/>
<line x1="1138.3" y1="1236.6" x2="1260.9" y2="1247.8" stroke="#0f0" stroke-width="1.9"/>
<line x1="1279.4" y1="1250.1" x2="1402.2" y2="1268.9" stroke="#0f0" stroke-width="1.9"/>
<line x1="1420.7" y1="1270.3" x2="1543.3" y2="1270.3" stroke="#0f0" stroke-width="1.9"/>
<line x1="1561.9" y1="1270.3" x2="1684.5" y2="1270.3" stroke="#0f0" stroke-width="1.9"/>
<path d="M1129 1225.7L1137.9 1240.7H1120.1Z" fill="#00f"/>
<path d="M1270.2 1238.7L1279.1 1253.7H1261.3Z" fill="#00f"/>
<path d="M1411.4 1260.3L1420.3 1275.3H1402.5Z" fill="#00f"/>
<path d="M1552.6 1260.3L1561.5 1275.3H1543.7Z" fill="#00f"/>
<path d="M1693.8 1260.3L1702.7 1275.3H1684.9Z" fill="#00f"/>
<line x1="1136.7" y1="986.2" x2="1262.5" y2="1070.8" stroke="#00f" stroke-width="1.9"/>
<line x1="1278.9" y1="1079.2" x2="1402.7" y2="1124.6" stroke="#00f" stroke-width="1.9"/>
<line x1="1417.9" y1="1134.4" x2="1546.1" y2="1263.7" stroke="#00f" stroke-width="1.9"/>
<line x1="1561.8" y1="1269.2" x2="1684.6" y2="1254.1" stroke="#00f" stroke-width="1.9"/>
<path d="M1120.1 976H1137.9L1129 991Z" fill="#f0f"/>
<path d="M1261.3 1071H1279.1L1270.2 1086Z" fill="#f0f"/>
<path d="M1402.5 1122.8H1420.3L1411.4 1137.8Z" fill="#f0f"/>
<path d="M1543.7 1265.3H1561.5L1552.6 1280.3Z" fill="#f0f"/>
<path d="M1684.9 1248H1702.7L1693.8 1263Z" fill="#f0f"/>
<rect x="1633.7" y="809.1" width="109.1" height="131.3" fill="#fff" stroke="#000" stroke-width="1.6"/>
<line x1="1637.5" y1="825.8" x2="1656.4" y2="825.8" stroke="#000" stroke-width="1.9"/>
<line x1="1671.6" y1="825.8" x2="1690.3" y2="825.8" stroke="#000" stroke-width="1.9"/>
<rect x="1658" y="819.8" width="12" height="12" fill="#000"/>
<line x1="1637.5" y1="861.7" x2="1656.4" y2="861.7" stroke="#f00" stroke-width="1.9"/>
<line x1="1671.6" y1="861.7" x2="1690.3" y2="861.7" stroke="#f00" stroke-width="1.9"/>
<circle cx="1664" cy="861.7" r="6.7" fill="#f00"/>
<line x1="1637.5" y1="898.1" x2="1656.4" y2="898.1" stroke="#0f0" stroke-width="1.9"/>
<line x1="1671.6" y1="898.1" x2="1690.3" y2="898.1" stroke="#0f0" stroke-width="1.9"/>
<path d="M1664 888.1L1672.8 903.1H1655.2Z" fill="#00f"/>
<line x1="1637.5" y1="925.8" x2="1656.4" y2="925.8" stroke="#00f" stroke-width="1.9"/>
<line x1="1671.6" y1="925.8" x2="1690.3" y2="925.8" stroke="#00f" stroke-width="1.9"/>
<path d="M1655.2 920.8H1672.8L1664 935.8Z" fill="#f0f"/>
<text x="1696.2" y="833.7" font-size="24.5">R<tspan font-size="14.5" dy="8.8" dx="-1.5" textLength="27.5" lengthAdjust="spacingAndGlyphs">ohm</tspan></text>
<text x="1696.2" y="869.8" font-size="24.5">R<tspan font-size="15" dy="8.9" dx="-1.5" textLength="18.5" lengthAdjust="spacingAndGlyphs">CT</tspan></text>
<text x="1696.2" y="905.7" font-size="24.5" textLength="28.5" lengthAdjust="spacingAndGlyphs">Ra</text>
<text x="1696.2" y="934" font-size="24.5" textLength="27.5" lengthAdjust="spacingAndGlyphs">Rc</text>
<text x="1310.8" y="1375.8" font-size="29">Temperature<tspan font-size="15.5" dy="-13.8" dx="3.5">o</tspan><tspan dy="13.8" dx="0">C</tspan></text>
<text transform="translate(968.1,1188.5) rotate(-90)" font-size="28" textLength="246" lengthAdjust="spacingAndGlyphs">Resistance (Ω cm<tspan font-size="16" dy="-11">-2</tspan><tspan dy="11">)</tspan></text>
<text x="1409.6" y="1457.3" font-size="63" text-anchor="middle" font-family='"Liberation Serif","Times New Roman",serif' font-weight="bold">d</text>
</g>
</svg></body></html>
